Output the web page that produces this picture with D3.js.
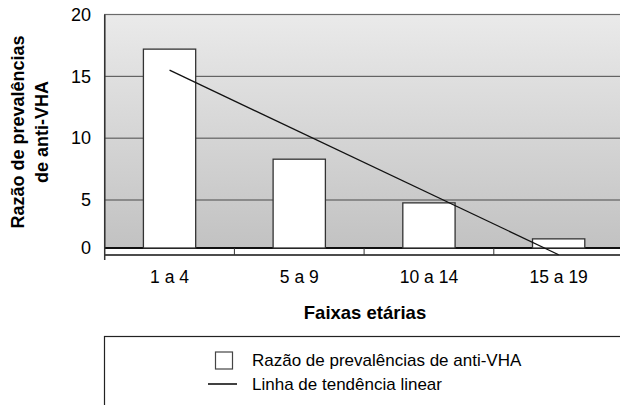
<!DOCTYPE html>
<html>
<head>
<meta charset="utf-8">
<script src="https://cdn.jsdelivr.net/npm/d3@7"></script>
<style>
  body { margin: 0; background: #fff; }
  text { font-family: "Liberation Sans", Arial, sans-serif; fill: #000; }
</style>
</head>
<body>
<script>
// chart data
var categories = ["1 a 4", "5 a 9", "10 a 14", "15 a 19"];
var ratios = [17.2, 8.3, 4.7, 0.95];
// trend line end points (first and last category)
var trendCats = ["1 a 4", "15 a 19"];
var trendValues = [15.5, -0.7];
var yTicks = [0, 5, 10, 15, 20];

var width = 620, height = 405;
var plotLeft = 104.7, plotRight = 623.5, plotTop = 14.5, floorTop = 248, floorBottom = 255;

var svg = d3.select("body").append("svg")
    .attr("width", width)
    .attr("height", height);

// x: one slot per category
var x = d3.scaleBand()
    .domain(categories)
    .range([plotLeft, plotRight])
    .padding(0);

// y: the original chart's value axis is squeezed below 5
var y = d3.scaleLinear()
    .domain([0, 5, 20])
    .range([floorTop, 200, plotTop]);

// background gradient of the plot wall
var grad = svg.append("defs").append("linearGradient")
    .attr("id", "wall")
    .attr("x1", 0).attr("y1", 0).attr("x2", 0).attr("y2", 1);
grad.append("stop").attr("offset", "0%").attr("stop-color", "#eaeaea");
grad.append("stop").attr("offset", "100%").attr("stop-color", "#c2c2c2");

svg.append("rect")
    .attr("x", plotLeft)
    .attr("y", plotTop)
    .attr("width", plotRight - plotLeft)
    .attr("height", floorTop - plotTop)
    .attr("fill", "url(#wall)")
    .attr("stroke", "#6a6a6a")
    .attr("stroke-width", 1.2);

// gridlines
svg.append("g")
    .selectAll("line")
    .data(yTicks.filter(d => d > 0 && d < 20))
    .enter().append("line")
    .attr("x1", plotLeft)
    .attr("x2", plotRight)
    .attr("y1", d => y(d))
    .attr("y2", d => y(d))
    .attr("stroke", "#4a4a4a")
    .attr("stroke-width", 1);

// y labels
svg.append("g")
    .selectAll("text")
    .data(yTicks)
    .enter().append("text")
    .attr("x", 91)
    .attr("y", d => y(d))
    .attr("dy", "0.35em")
    .attr("text-anchor", "end")
    .style("font-size", "18px")
    .text(d => d);

// floor strip
svg.append("rect")
    .attr("x", plotLeft)
    .attr("y", floorTop)
    .attr("width", plotRight - plotLeft)
    .attr("height", floorBottom - floorTop)
    .attr("fill", "#fff")
    .attr("stroke", "none");
svg.append("line")
    .attr("x1", plotLeft).attr("x2", plotRight)
    .attr("y1", floorTop).attr("y2", floorTop)
    .attr("stroke", "#111").attr("stroke-width", 2);
svg.append("line")
    .attr("x1", plotLeft).attr("x2", plotRight)
    .attr("y1", floorBottom).attr("y2", floorBottom)
    .attr("stroke", "#111").attr("stroke-width", 1.3);

// category separators on the floor
svg.append("g")
    .selectAll("line")
    .data(categories.slice(1))
    .enter().append("line")
    .attr("x1", d => x(d))
    .attr("x2", d => x(d))
    .attr("y1", floorTop)
    .attr("y2", floorBottom)
    .attr("stroke", "#333")
    .attr("stroke-width", 1);

// left axis line
svg.append("line")
    .attr("x1", plotLeft).attr("x2", plotLeft)
    .attr("y1", plotTop).attr("y2", 260)
    .attr("stroke", "#333")
    .attr("stroke-width", 1.5);

// bars
var barW = x.bandwidth() * 0.403;
svg.append("g")
    .selectAll("rect")
    .data(ratios)
    .enter().append("rect")
    .attr("x", (d, i) => x(categories[i]) + (x.bandwidth() - barW) / 2)
    .attr("y", d => y(d))
    .attr("width", barW)
    .attr("height", d => y(0) - y(d))
    .attr("fill", "#fff")
    .attr("stroke", "#333")
    .attr("stroke-width", 1.3);

// trend line
svg.append("line")
    .attr("x1", x(trendCats[0]) + x.bandwidth() / 2)
    .attr("y1", y(trendValues[0]))
    .attr("x2", x(trendCats[1]) + x.bandwidth() / 2)
    .attr("y2", y(trendValues[1]))
    .attr("stroke", "#111")
    .attr("stroke-width", 1.3);

// x labels
svg.append("g")
    .selectAll("text")
    .data(categories)
    .enter().append("text")
    .attr("x", d => x(d) + x.bandwidth() / 2)
    .attr("y", 277)
    .attr("dy", "0.35em")
    .attr("text-anchor", "middle")
    .style("font-size", "17.5px")
    .text(d => d);

// axis titles
svg.append("text")
    .attr("x", 365)
    .attr("y", 313)
    .attr("dy", "0.35em")
    .attr("text-anchor", "middle")
    .style("font-size", "18.5px")
    .style("font-weight", "bold")
    .text("Faixas etárias");

var yTitle = svg.append("text")
    .attr("transform", "translate(30,132) rotate(-90)")
    .attr("text-anchor", "middle")
    .style("font-size", "18px")
    .style("font-weight", "bold");
yTitle.append("tspan").attr("x", 0).attr("y", -6).text("Razão de prevalências");
yTitle.append("tspan").attr("x", 0).attr("y", 18).text("de anti-VHA");

// legend
var legend = svg.append("g");
legend.append("rect")
    .attr("x", 104.5)
    .attr("y", 336.5)
    .attr("width", 530)
    .attr("height", 100)
    .attr("fill", "#fff")
    .attr("stroke", "#222")
    .attr("stroke-width", 1.2);
legend.append("rect")
    .attr("x", 215.5)
    .attr("y", 352)
    .attr("width", 17)
    .attr("height", 17)
    .attr("fill", "#fff")
    .attr("stroke", "#444")
    .attr("stroke-width", 1.2);
legend.append("text")
    .attr("x", 252)
    .attr("y", 360.5)
    .attr("dy", "0.35em")
    .style("font-size", "17px")
    .text("Razão de prevalências de anti-VHA");
legend.append("line")
    .attr("x1", 208).attr("x2", 237)
    .attr("y1", 384).attr("y2", 384)
    .attr("stroke", "#111")
    .attr("stroke-width", 1.6);
legend.append("text")
    .attr("x", 252)
    .attr("y", 384)
    .attr("dy", "0.35em")
    .style("font-size", "17px")
    .text("Linha de tendência linear");
</script>
</body>
</html>
